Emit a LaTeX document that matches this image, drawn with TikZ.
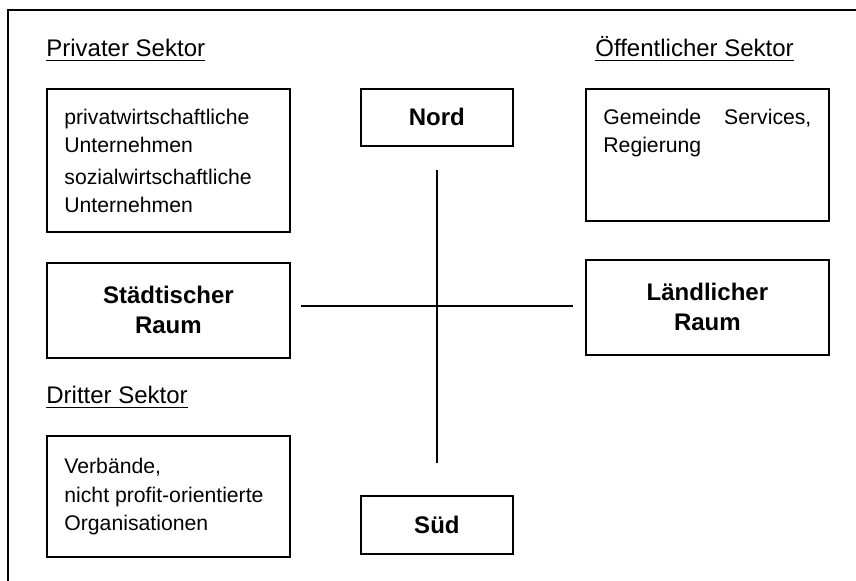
\documentclass[tikz,border=0pt]{standalone}
\usepackage{fontspec}
\setmainfont{Liberation Sans}
\usetikzlibrary{positioning}

% text of the sector boxes: top aligned, first baseline #2 below the frame
\newcommand{\sectext}[3][18pt]{\parbox[t][#2][t]{104pt}{\rule{0pt}{#1}#3}}

\begin{document}
\begin{tikzpicture}[
  x=0.5pt, y=0.5pt,
  font=\fontsize{12}{15}\selectfont,
  frame/.style={line width=0.9pt},
  sector/.style={anchor=base west, inner sep=0pt},
  secbox/.style={draw, line width=0.9pt, anchor=north west, inner xsep=8.75pt,
                 inner ysep=0pt, font=\fontsize{10.6}{14}\selectfont},
  area/.style={draw, line width=0.9pt, anchor=north west, align=center,
               font=\fontsize{12}{15}\selectfont\bfseries, inner sep=0pt},
  axis/.style={line width=0.75pt},
]
\useasboundingbox (0,0) rectangle (856,-581);
\draw[frame] (856,-10) -| (8,-581);

% sectors
\node[sector] (privlbl) at (46,-57) {\underline{Privater Sektor}};
\node[sector] (oefflbl) at (595,-57) {\underline{Öffentlicher Sektor}};
\node[sector] (drittlbl) at (46,-404) {\underline{Dritter Sektor}};

\node[secbox] (priv) at (46,-88) {\sectext{71.5pt}{privatwirtschaftliche\\ Unternehmen\\[2pt] sozialwirtschaftliche\\ Unternehmen}};
\node[secbox] (oeff) at (585,-88) {\sectext{66pt}{Gemeinde\hfill Services,\\ Regierung}};
\node[secbox] (dritt) at (46,-435) {\sectext[19pt]{60.5pt}{Verbände,\\[0.5pt] nicht profit-orientierte\\ Organisationen}};

% regions
\node[area, minimum width=121.5pt, minimum height=47.5pt] (staedt) at (46,-262) {Städtischer\\ Raum};
\node[area, minimum width=121.5pt, minimum height=47.5pt, below=18.5pt of oeff] (laend) {Ländlicher\\ Raum};
\node[area, minimum width=76pt, minimum height=28.5pt] (nord) at (360,-88) {Nord};
\node[area, minimum width=76pt, minimum height=29pt] (sued) at (360,-495) {Süd};

% cross
\coordinate (ntip) at (437,-170);
\coordinate (stip) at (437,-463);
\coordinate (wtip) at (301,-306);
\coordinate (etip) at (573,-306);
\draw[axis] (ntip) -- (stip);
\draw[axis] (wtip) -- (etip);
\end{tikzpicture}
\end{document}
